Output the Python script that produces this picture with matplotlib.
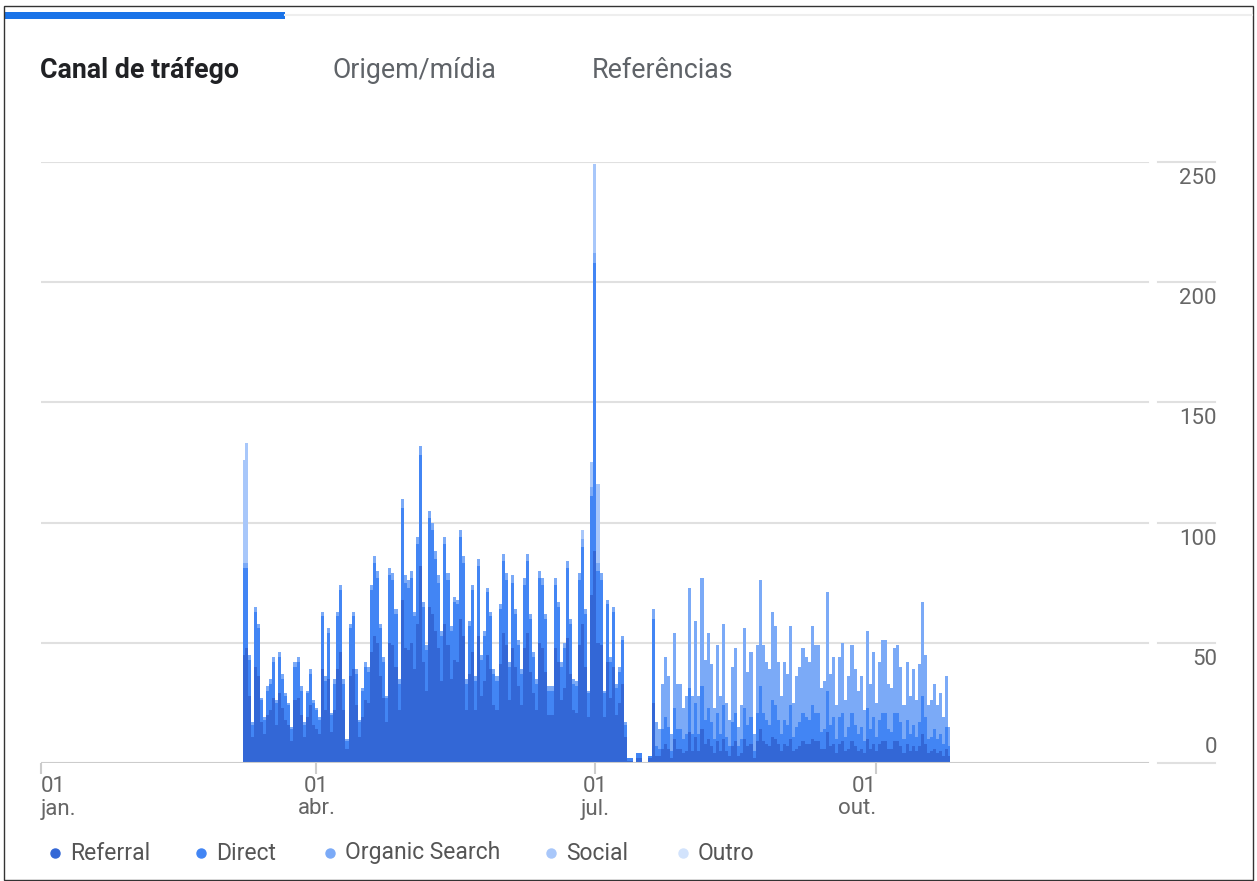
import numpy as np
import matplotlib
matplotlib.use("Agg")
import matplotlib.pyplot as plt
import matplotlib.dates as mdates
from matplotlib.lines import Line2D
from matplotlib.patches import Rectangle

plt.rcParams['font.family'] = ['Roboto', 'DejaVu Sans']

# daily sessions per channel, starting on first_day
first_day = '2019-03-08'

referral = [
    45, 48, 28, 11, 40, 36, 17, 12, 20, 22,
    27, 16, 29, 23, 18, 16, 9, 26, 27, 20,
    11, 19, 24, 16, 14, 12, 39, 22, 35, 13,
    22, 39, 46, 22, 6, 36, 39, 24, 11, 19,
    26, 25, 46, 53, 50, 36, 27, 17, 50, 49,
    40, 22, 68, 48, 47, 50, 39, 58, 82, 42,
    30, 65, 62, 55, 48, 34, 58, 49, 35, 43,
    42, 60, 53, 22, 37, 46, 22, 53, 28, 34,
    45, 39, 24, 22, 41, 54, 49, 26, 48, 40,
    32, 24, 48, 54, 38, 29, 22, 50, 48, 38,
    20, 20, 48, 42, 26, 31, 52, 37, 22, 21,
    49, 58, 40, 19, 70, 88, 50, 49, 19, 42,
    27, 40, 20, 25, 33, 11, 1, 1, 0, 2,
    2, 0, 0, 2, 25, 3, 3, 6, 8, 6,
    2, 10, 6, 6, 4, 5, 13, 5, 11, 5,
    14, 8, 10, 7, 4, 9, 5, 10, 5, 3,
    7, 9, 3, 4, 10, 7, 8, 2, 9, 14,
    9, 8, 7, 11, 10, 8, 5, 8, 7, 10,
    5, 6, 7, 9, 8, 8, 10, 9, 9, 6,
    6, 13, 7, 8, 4, 8, 9, 5, 6, 9,
    7, 5, 6, 4, 10, 6, 8, 5, 8, 9,
    9, 6, 6, 9, 9, 7, 4, 8, 5, 7,
    5, 7, 12, 8, 4, 5, 6, 4, 5, 3,
    6, 3,
]

direct = [
    36, 33, 15, 5, 23, 20, 9, 6, 10, 11,
    15, 9, 15, 12, 10, 8, 5, 14, 15, 10,
    5, 10, 13, 9, 8, 6, 22, 12, 19, 7,
    11, 22, 26, 11, 3, 20, 22, 13, 6, 11,
    14, 13, 26, 30, 27, 20, 15, 10, 28, 27,
    22, 11, 38, 27, 26, 27, 22, 33, 46, 23,
    17, 37, 35, 30, 27, 19, 33, 27, 20, 24,
    24, 34, 30, 11, 20, 26, 12, 29, 15, 19,
    26, 22, 13, 12, 23, 30, 27, 14, 27, 22,
    17, 13, 26, 30, 22, 15, 11, 27, 26, 22,
    10, 10, 26, 23, 14, 17, 29, 21, 11, 11,
    27, 32, 22, 10, 41, 120, 30, 27, 10, 24,
    15, 23, 11, 13, 18, 5, 1, 1, 0, 2,
    2, 0, 0, 1, 35, 4, 3, 8, 11, 9,
    3, 13, 8, 8, 6, 7, 18, 7, 14, 7,
    18, 10, 13, 10, 6, 12, 7, 14, 6, 4,
    10, 12, 4, 6, 13, 9, 11, 3, 12, 18,
    12, 10, 9, 15, 14, 10, 7, 10, 9, 14,
    6, 9, 10, 12, 11, 10, 14, 12, 12, 7,
    8, 17, 9, 11, 6, 11, 12, 6, 9, 12,
    9, 7, 9, 5, 13, 8, 11, 6, 10, 12,
    12, 8, 7, 12, 12, 10, 6, 10, 7, 9,
    6, 10, 16, 11, 6, 6, 8, 6, 7, 5,
    9, 4,
]

organic = [
    2, 2, 2, 1, 2, 2, 1, 1, 2, 2,
    2, 1, 2, 2, 1, 1, 1, 2, 2, 2,
    1, 1, 2, 1, 1, 1, 2, 2, 2, 1,
    2, 2, 2, 2, 1, 2, 2, 2, 1, 1,
    2, 2, 2, 3, 3, 2, 2, 1, 3, 3,
    2, 2, 4, 3, 3, 3, 2, 3, 4, 2,
    2, 3, 3, 3, 3, 2, 3, 3, 2, 2,
    2, 3, 3, 2, 2, 2, 2, 3, 2, 2,
    2, 2, 2, 2, 2, 3, 3, 2, 3, 2,
    2, 2, 3, 3, 2, 2, 2, 3, 3, 2,
    2, 2, 3, 2, 2, 2, 3, 2, 2, 2,
    3, 3, 2, 1, 4, 4, 3, 3, 1, 2,
    2, 2, 2, 2, 2, 1, 0, 0, 0, 0,
    0, 0, 0, 0, 4, 10, 8, 19, 25, 21,
    7, 31, 19, 19, 13, 16, 42, 16, 34, 16,
    45, 25, 31, 24, 13, 28, 16, 34, 14, 11,
    23, 27, 8, 14, 33, 22, 27, 7, 28, 44,
    28, 24, 23, 37, 33, 24, 16, 24, 21, 33,
    14, 21, 23, 27, 25, 24, 33, 28, 28, 18,
    20, 41, 21, 25, 14, 25, 29, 15, 21, 28,
    23, 18, 21, 13, 32, 19, 27, 14, 24, 30,
    30, 19, 18, 27, 28, 23, 14, 24, 16, 23,
    15, 24, 39, 26, 14, 15, 19, 14, 17, 11,
    21, 8,
]

social = [
    43, 50, 0, 0, 0, 0, 0, 0, 0, 0,
    0, 0, 0, 0, 0, 0, 0, 0, 0, 0,
    0, 0, 0, 0, 0, 0, 0, 0, 0, 0,
    0, 0, 0, 0, 0, 0, 0, 0, 0, 0,
    0, 0, 0, 0, 0, 0, 0, 0, 0, 0,
    0, 0, 0, 0, 0, 0, 0, 0, 0, 0,
    0, 0, 0, 0, 0, 0, 0, 0, 0, 0,
    0, 0, 0, 0, 0, 0, 0, 0, 0, 0,
    0, 0, 0, 0, 0, 0, 0, 0, 0, 0,
    0, 0, 0, 0, 0, 0, 0, 0, 0, 0,
    0, 0, 0, 0, 0, 0, 0, 0, 0, 0,
    0, 4, 0, 0, 10, 37, 33, 0, 0, 0,
    0, 0, 0, 0, 0, 0, 0, 0, 0, 0,
    0, 0, 0, 0, 0, 0, 0, 0, 0, 0,
    0, 0, 0, 0, 0, 0, 0, 0, 0, 0,
    0, 0, 0, 0, 0, 0, 0, 0, 0, 0,
    0, 0, 0, 0, 0, 0, 0, 0, 0, 0,
    0, 0, 0, 0, 0, 0, 0, 0, 0, 0,
    0, 0, 0, 0, 0, 0, 0, 0, 0, 0,
    0, 0, 0, 0, 0, 0, 0, 0, 0, 0,
    0, 0, 0, 0, 0, 0, 0, 0, 0, 0,
    0, 0, 0, 0, 0, 0, 0, 0, 0, 0,
    0, 0, 0, 0, 0, 0, 0, 0, 0, 0,
    0, 0,
]

outro = [
    0, 0, 0, 0, 0, 0, 0, 0, 0, 0,
    0, 0, 0, 0, 0, 0, 0, 0, 0, 0,
    0, 0, 0, 0, 0, 0, 0, 0, 0, 0,
    0, 0, 0, 0, 0, 0, 0, 0, 0, 0,
    0, 0, 0, 0, 0, 0, 0, 0, 0, 0,
    0, 0, 0, 0, 0, 0, 0, 0, 0, 0,
    0, 0, 0, 0, 0, 0, 0, 0, 0, 0,
    0, 0, 0, 0, 0, 0, 0, 0, 0, 0,
    0, 0, 0, 0, 0, 0, 0, 0, 0, 0,
    0, 0, 0, 0, 0, 0, 0, 0, 0, 0,
    0, 0, 0, 0, 0, 0, 0, 0, 0, 0,
    0, 0, 0, 0, 0, 0, 0, 0, 0, 0,
    0, 0, 0, 0, 0, 0, 0, 0, 0, 0,
    0, 0, 0, 0, 0, 0, 0, 0, 0, 0,
    0, 0, 0, 0, 0, 0, 0, 0, 0, 0,
    0, 0, 0, 0, 0, 0, 0, 0, 0, 0,
    0, 0, 0, 0, 0, 0, 0, 0, 0, 0,
    0, 0, 0, 0, 0, 0, 0, 0, 0, 0,
    0, 0, 0, 0, 0, 0, 0, 0, 0, 0,
    0, 0, 0, 0, 0, 0, 0, 0, 0, 0,
    0, 0, 0, 0, 0, 0, 0, 0, 0, 0,
    0, 0, 0, 0, 0, 0, 0, 0, 0, 0,
    0, 0, 0, 0, 0, 0, 0, 0, 0, 0,
    0, 0,
]

channel_names = ['Referral', 'Direct', 'Organic Search', 'Social', 'Outro']
channel_colors = ['#3367d6', '#4285f4', '#7baaf7', '#a8c7fa', '#d2e3fc']
y_ticks = [0, 50, 100, 150, 200, 250]
quarter_days = ['2019-01-01', '2019-04-01', '2019-07-01', '2019-10-01']
quarter_labels = ['jan.', 'abr.', 'jul.', 'out.']
tabs = ['Canal de tráfego', 'Origem/mídia', 'Referências']

W, H = 1257, 881
fig = plt.figure(figsize=(W / 100, H / 100), dpi=100)


def fx(px):
    return px / W


def fy(py):
    return 1 - py / H


# tab header
fig.add_artist(Rectangle((fx(5), fy(19)), fx(280), 7 / H, color='#1a73e8', lw=0))
fig.add_artist(Line2D([fx(285), fx(1252)], [fy(15), fy(15)], color='#eeeeee', lw=1.5))
tab_x = [40, 333, 592]
for i, (name, tx) in enumerate(zip(tabs, tab_x)):
    fig.text(fx(tx), fy(70), name, fontsize=19.3, va='center', ha='left',
             color='#202124' if i == 0 else '#5f6368',
             fontweight='bold' if i == 0 else 'normal')

# stacked daily columns (step fill, one column per day)
days = np.datetime64(first_day) + np.arange(len(referral))
x = mdates.date2num(days)
ax_w = 1117
ax = fig.add_axes([fx(41), fy(763), ax_w / W, 601 / H])
base = np.zeros(len(x))
for series, col in zip([referral, direct, organic, social, outro], channel_colors):
    top = base + np.array(series)
    ax.fill_between(x, base, top, step='mid', color=col, lw=0, zorder=2)
    base = top

ax.set_xlim(mdates.date2num(np.datetime64('2019-01-01')),
            mdates.date2num(np.datetime64('2020-01-01')))
ax.set_ylim(0, 250)
for s in ax.spines.values():
    s.set_visible(False)
ax.set_yticks([])
ax.set_xticks(mdates.date2num(np.array(quarter_days, dtype='datetime64[D]')))
ax.tick_params(axis='x', length=8, width=1.5, color='#cccccc', labelbottom=False)

grid_end = (1148 - 41) / ax_w
seg = ((1158 - 41) / ax_w, (1215 - 41) / ax_w)
label_x = (1217 - 41) / ax_w
ytr = ax.get_yaxis_transform()
for v in y_ticks:
    ax.plot([0, grid_end], [v, v], transform=ytr,
            color='#cccccc' if v == 0 else '#e0e0e0', lw=1.5,
            zorder=3 if v == 0 else 0)
    ax.plot(seg, [v, v], transform=ytr, color='#e0e0e0', lw=1.5, clip_on=False)
    ax.annotate(str(v), xy=(label_x, v), xycoords=('axes fraction', 'data'),
                xytext=(0, -6 if v else 5), textcoords='offset pixels',
                ha='right', va='top' if v else 'bottom',
                fontsize=16, color='#666666')

for i, (d, lab) in enumerate(zip(quarter_days, quarter_labels)):
    dx = mdates.date2num(np.datetime64(d))
    ha = 'left' if i == 0 else ('right' if i == len(quarter_days) - 1 else 'center')
    ax.annotate('01', xy=(dx, 0), xytext=(0, -23), textcoords='offset pixels',
                ha=ha, va='center', fontsize=16, color='#666666')
    ax.annotate(lab, xy=(dx, 0), xytext=(0, -46), textcoords='offset pixels',
                ha=ha, va='center', fontsize=16, color='#666666')

# legend row
dot_x = [55, 201, 330, 551, 683]
for name, col, dxp in zip(channel_names, channel_colors, dot_x):
    fig.add_artist(Line2D([fx(dxp)], [fy(853)], marker='o', ms=6.5, color=col, lw=0))
    fig.text(fx(dxp + 15), fy(853), name, fontsize=16.5, va='center', color='#555555')

# card border
fig.add_artist(Rectangle((fx(4), fy(880)), fx(1249), 874 / H, fill=False,
                         edgecolor='#333333', lw=1))

fig.savefig('out.png', dpi=100)
